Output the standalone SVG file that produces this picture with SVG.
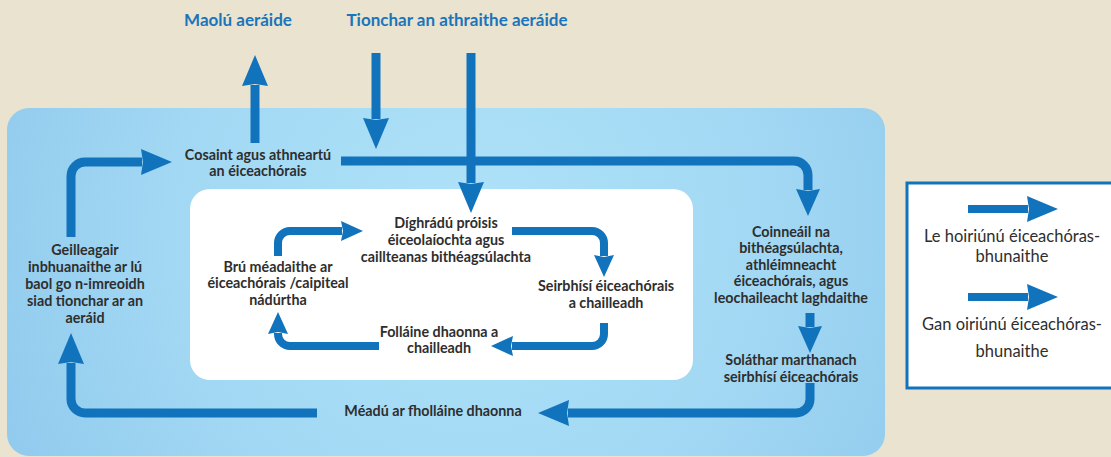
<svg xmlns="http://www.w3.org/2000/svg" width="1111" height="457" viewBox="0 0 1111 457">
<defs>
<radialGradient id="bg" gradientUnits="userSpaceOnUse" cx="470" cy="230" r="500">
<stop offset="0" stop-color="#AEE2F9"/>
<stop offset="0.6" stop-color="#A2D8F3"/>
<stop offset="1" stop-color="#92CBEE"/>
</radialGradient>
<marker id="hb" markerUnits="userSpaceOnUse" viewBox="0 0 31 26" refX="1" refY="13" markerWidth="31" markerHeight="26" orient="auto">
<path d="M0,0 L31,13 L0,26 L2,13 z" fill="#1273BD"/>
</marker>
<marker id="hm" markerUnits="userSpaceOnUse" viewBox="0 0 27 24" refX="1" refY="12" markerWidth="27" markerHeight="24" orient="auto">
<path d="M0,0 L27,12 L0,24 L2,12 z" fill="#1273BD"/>
</marker>
<marker id="hs" markerUnits="userSpaceOnUse" viewBox="0 0 22 20" refX="1" refY="10" markerWidth="22" markerHeight="20" orient="auto">
<path d="M0,0 L22,10 L0,20 L2,10 z" fill="#1273BD"/>
</marker>
<style>
.t{font-family:Lato,"Liberation Sans",sans-serif;font-weight:bold;font-size:14.3px;fill:#2E2E2E;text-anchor:middle}
.h{font-family:Lato,"Liberation Sans",sans-serif;font-weight:bold;font-size:17px;fill:#1A75BB;text-anchor:middle}
.l{font-family:Lato,"Liberation Sans",sans-serif;font-size:16.5px;fill:#2E2E2E;text-anchor:middle}
.c{fill:none;stroke:#1273BD;stroke-width:9}
.ci{fill:none;stroke:#1273BD;stroke-width:8}
</style>
</defs>
<rect width="1111" height="457" fill="#E9E3D0"/>
<rect id="outer" x="7" y="108" width="878" height="348" rx="22" fill="url(#bg)"/>
<rect id="inner" x="190" y="189" width="503" height="191" rx="20" fill="#FFFFFF"/>

<g id="title-mitigation"><text class="h" x="238" y="26">Maolú aeráide</text></g>
<g id="title-impact"><text class="h" x="457" y="26">Tionchar an athraithe aeráide</text></g>

<g id="connectors">
<path class="c" d="M255,143 L255,85" marker-end="url(#hb)"/>
<path class="c" d="M376,53 L376,119" marker-end="url(#hb)"/>
<path class="c" d="M471,53 L471,183" marker-end="url(#hb)"/>
<path class="c" d="M341,161 L794,161 A14,14 0 0 1 808,175 L808,190" marker-end="url(#hm)"/>
<path class="c" d="M71,237 L71,176 A14,14 0 0 1 85,162 L142,162" marker-end="url(#hb)"/>
<path class="c" d="M317,413 L85,413 A14,14 0 0 1 71,399 L71,363" marker-end="url(#hb)"/>
<path class="c" d="M810,383 L810,399 A14,14 0 0 1 796,413 L568,413" marker-end="url(#hb)"/>
<path class="c" d="M810,313 L810,327" marker-end="url(#hm)"/>
<path class="ci" d="M278,256 L278,243 A12,12 0 0 1 290,231 L342,231" marker-end="url(#hs)"/>
<path class="ci" d="M512,231 L592,231 A12,12 0 0 1 604,243 L604,256" marker-end="url(#hs)"/>
<path class="ci" d="M604,323 L604,334 A12,12 0 0 1 592,346 L512,346" marker-end="url(#hs)"/>
<path class="ci" d="M379,346 L290,346 A12,12 0 0 1 278,334 L278,333" marker-end="url(#hs)"/>
</g>

<g id="n-cosaint"><text class="t" x="258" y="160">Cosaint agus athneartú</text><text class="t" x="258" y="176">an éiceachórais</text></g>
<g id="n-geilleagair"><text class="t" x="85" y="255">Geilleagair</text><text class="t" x="85" y="272">inbhuanaithe ar lú</text><text class="t" x="85" y="289">baol go n-imreoidh</text><text class="t" x="85" y="306">siad tionchar ar an</text><text class="t" x="85" y="323">aeráid</text></g>
<g id="n-meadu"><text class="t" x="433" y="416">Méadú ar fholláine dhaonna</text></g>
<g id="n-solathar"><text class="t" x="791" y="365">Soláthar marthanach</text><text class="t" x="791" y="382">seirbhísí éiceachórais</text></g>
<g id="n-coinneail"><text class="t" x="791" y="237">Coinneáil na</text><text class="t" x="791" y="253">bithéagsúlachta,</text><text class="t" x="791" y="270">athléimneacht</text><text class="t" x="791" y="286">éiceachórais, agus</text><text class="t" x="791" y="303">leochaileacht laghdaithe</text></g>
<g id="n-dighradu"><text class="t" x="446" y="228">Díghrádú próisis</text><text class="t" x="446" y="245">éiceolaíochta agus</text><text class="t" x="446" y="262">caillteanas bithéagsúlachta</text></g>
<g id="n-seirbhisi"><text class="t" x="606" y="291">Seirbhísí éiceachórais</text><text class="t" x="606" y="308">a chailleadh</text></g>
<g id="n-follaine"><text class="t" x="439" y="337">Folláine dhaonna a</text><text class="t" x="439" y="353">chailleadh</text></g>
<g id="n-bru"><text class="t" x="278" y="272">Brú méadaithe ar</text><text class="t" x="278" y="288">éiceachórais /caipiteal</text><text class="t" x="278" y="305">nádúrtha</text></g>

<g id="legend">
<rect x="907" y="183" width="220" height="205" fill="#FFFFFF" stroke="#1273BD" stroke-width="3"/>
<path d="M968,209 L1028,209" stroke="#1273BD" stroke-width="8" marker-end="url(#hb)"/>
<text class="l" x="1012" y="242">Le hoiriúnú éiceachóras-</text>
<text class="l" x="1012" y="262">bhunaithe</text>
<path d="M968,297 L1028,297" stroke="#1273BD" stroke-width="8" marker-end="url(#hb)"/>
<text class="l" x="1012" y="330">Gan oiriúnú éiceachóras-</text>
<text class="l" x="1012" y="357">bhunaithe</text>
</g>
</svg>
